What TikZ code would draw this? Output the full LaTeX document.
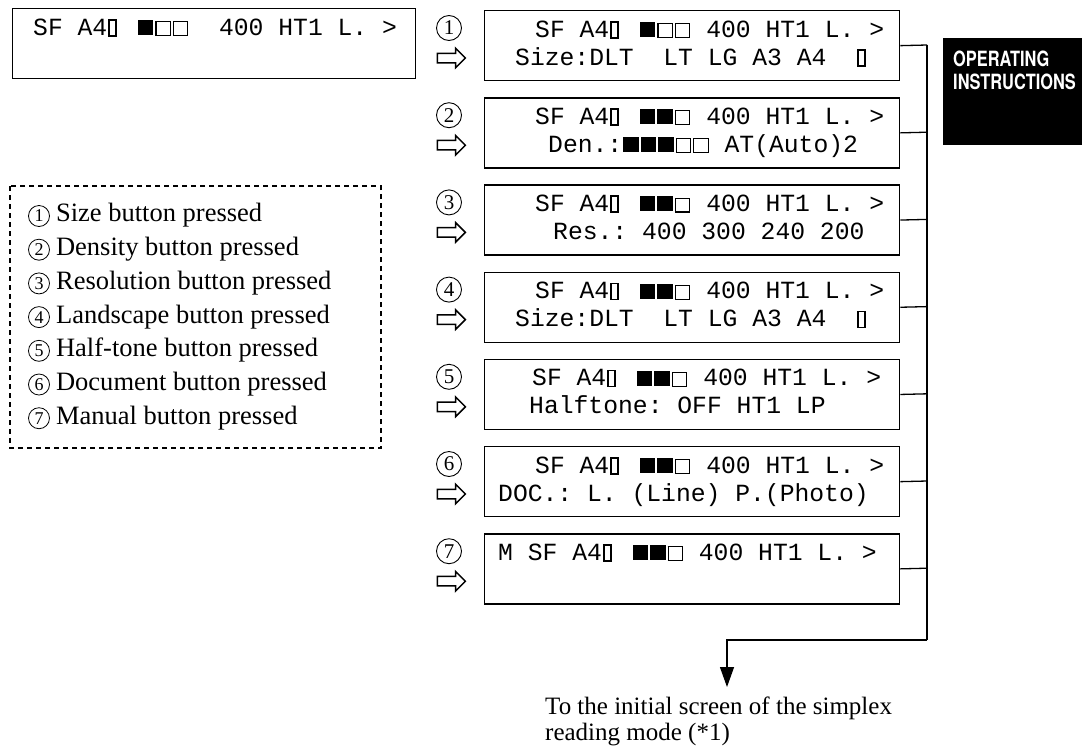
\documentclass[tikz,border=0pt]{standalone}
\usepackage{fontspec}
\setmainfont{Liberation Serif}
\setmonofont{Liberation Mono}
\newfontfamily\tabfont[FakeStretch=0.78]{TeX Gyre Heros}
\usepackage{tikz}
\usetikzlibrary{arrows.meta,positioning,shapes.arrows}
\frenchspacing

% LCD glyphs
\newcommand{\dOn}{\makebox[17.5pt]{\rule{15.5pt}{15pt}}}
\newcommand{\dOff}{\makebox[17.5pt]{\fboxsep=0pt\fboxrule=1.1pt\fbox{\rule{0pt}{12.8pt}\hspace{13.3pt}}}}
\newcommand{\pPort}{\makebox[14.8pt][l]{\hspace{1pt}\fboxsep=0pt\fboxrule=1.6pt\fbox{\rule{0pt}{14.5pt}\hspace{5.5pt}}}}

\begin{document}
\begin{tikzpicture}[x=1pt,y=-1pt,
    lcd/.style={draw, line width=1.3pt, minimum width=415pt, minimum height=70pt, inner sep=0pt, anchor=north west},
    lcdtxt/.style={font=\ttfamily\fontsize{24.7}{25}\selectfont, inner sep=0pt, anchor=base west},
    num/.style={circle, draw, line width=0.9pt, minimum size=25pt, inner sep=0pt, font=\fontsize{21}{21}\selectfont},
    lnum/.style={circle, draw, line width=0.8pt, minimum size=21pt, inner sep=0pt, font=\fontsize{18}{18}\selectfont},
    ltxt/.style={inner sep=0pt, font=\fontsize{26.5}{26.5}\selectfont},
    push/.style={single arrow, draw, line width=1.5pt, minimum height=28pt, minimum width=18pt, inner xsep=0pt, inner ysep=4pt, single arrow head extend=5pt},
    link/.style={line width=1.3pt}]
  \useasboundingbox (0,0) rectangle (1091,745);
  \def\dy{87.2}

  % display before a button is pressed
  \node[lcd, minimum width=403pt] (d0) at (12,8) {};
  \node[lcdtxt] (d0a) at ([xshift=21pt,yshift=-27pt]d0.north west) {SF A4\pPort~\dOn\dOff\dOff~~400 HT1 L.~>};

  % displays after each button
  \foreach \i in {1,...,7}{
    \node[lcd] (d\i) at (484,{10+\dy*(\i-1)}) {};
    \node[num] (n\i) at (449,{28+\dy*(\i-1)}) {\i};
    \node[push] (p\i) at (449,{58+\dy*(\i-1)}) {};
    \coordinate (j\i) at (927,{45+\dy*(\i-1)});
    \draw[link] (d\i.east) -- (j\i);
  }
  \node[lcdtxt] (d1a) at ([xshift=51pt,yshift=-27pt]d1.north west) {SF A4\pPort~\dOn\dOff\dOff~400 HT1 L.~>};
  \node[lcdtxt] (d1b) at ([xshift=31pt,yshift=-55pt]d1.north west) {Size:DLT~~LT LG A3 A4~~\pPort};
  \node[lcdtxt] (d2a) at ([xshift=51pt,yshift=-27pt]d2.north west) {SF A4\pPort~\dOn\dOn\dOff~400 HT1 L.~>};
  \node[lcdtxt] (d2b) at ([xshift=64pt,yshift=-55pt]d2.north west) {Den.:\dOn\dOn\dOn\dOff\dOff~AT(Auto)2};
  \node[lcdtxt] (d3a) at ([xshift=51pt,yshift=-27pt]d3.north west) {SF A4\pPort~\dOn\dOn\dOff~400 HT1 L.~>};
  \node[lcdtxt] (d3b) at ([xshift=69pt,yshift=-55pt]d3.north west) {Res.:~400~300~240~200};
  \node[lcdtxt] (d4a) at ([xshift=51pt,yshift=-27pt]d4.north west) {SF A4\pPort~\dOn\dOn\dOff~400 HT1 L.~>};
  \node[lcdtxt] (d4b) at ([xshift=31pt,yshift=-55pt]d4.north west) {Size:DLT~~LT LG A3 A4~~\pPort};
  \node[lcdtxt] (d5a) at ([xshift=48pt,yshift=-27pt]d5.north west) {SF A4\pPort~\dOn\dOn\dOff~400 HT1 L.~>};
  \node[lcdtxt] (d5b) at ([xshift=45pt,yshift=-55pt]d5.north west) {Halftone:~OFF~HT1~LP};
  \node[lcdtxt] (d6a) at ([xshift=51pt,yshift=-27pt]d6.north west) {SF A4\pPort~\dOn\dOn\dOff~400 HT1 L.~>};
  \node[lcdtxt] (d6b) at ([xshift=14pt,yshift=-55pt]d6.north west) {DOC.:~L.~(Line)~P.(Photo)};
  \node[lcdtxt] (d7a) at ([xshift=14pt,yshift=-27pt]d7.north west) {M~SF A4\pPort~\dOn\dOn\dOff~400 HT1 L.~>};

  % back to the first screen
  \coordinate (jbot) at (927,640);
  \coordinate (tip) at (727,687);
  \draw[link] (j1) -- (jbot);
  \draw[link, -{Triangle[length=20pt,width=14pt]}] (jbot) -| (tip);
  \node[anchor=north west, align=left, inner sep=0pt, font=\fontsize{25}{26}\selectfont] (dest) at (545,697)
    {To the initial screen of the simplex\\reading mode (*1)};

  % legend
  \draw[line width=1.2pt, dash pattern=on 5pt off 4pt] (10,186) rectangle (381,448);
  \foreach \i/\txt in {1/Size,2/Density,3/Resolution,4/Landscape,5/Half-tone,6/Document,7/Manual}{
    \node[lnum] (l\i) at (39,{216+33.7*(\i-1)}) {\i};
    \node[ltxt, base right=6pt of l\i] (lt\i) {\txt{} button pressed};
  }

  % tab
  \node[fill=black, minimum width=139pt, minimum height=107pt, inner sep=0pt, anchor=north west] (tab) at (943,38) {};
  \node[anchor=north west, align=left, inner sep=0pt, text=white, font=\tabfont\bfseries\fontsize{21}{23}\selectfont] (tabtxt) at (953,51) {OPERATING\\INSTRUCTIONS};
\end{tikzpicture}
\end{document}
